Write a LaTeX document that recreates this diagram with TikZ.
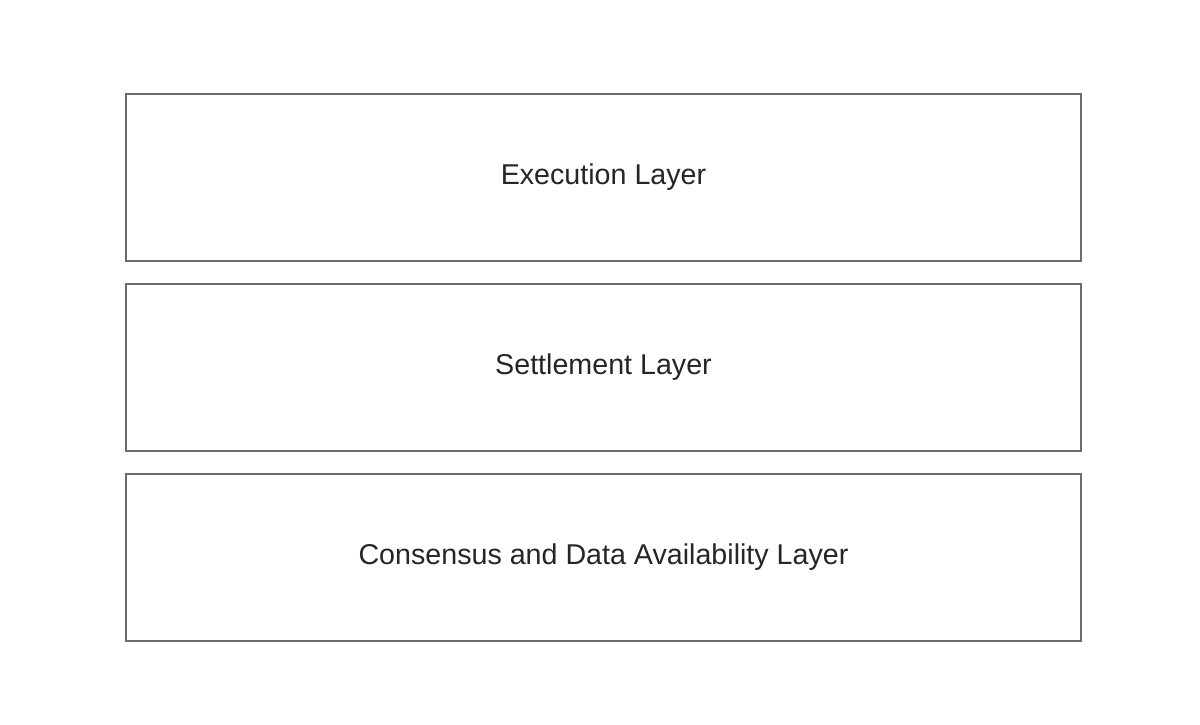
\documentclass[tikz,border=0pt]{standalone}
\usepackage{fontspec}
\setmainfont{Liberation Sans}
\usetikzlibrary{positioning}

\tikzset{
  layer/.style={draw=gray!85!black, line width=0.6pt, fill=white,
    minimum width=19.1cm, minimum height=3.34cm, outer sep=0pt,
    font=\fontsize{16.3}{19}\selectfont, text=black!85}
}

\begin{document}
\begin{tikzpicture}
  \useasboundingbox (0,0) rectangle (24,14.48);

  \node[layer] (exec) at (12.07,10.93) {Execution Layer};
  \node[layer, below=0.46cm of exec] (settle) {Settlement Layer};
  \node[layer, below=0.46cm of settle] (consensus) {Consensus and Data Availability Layer};
\end{tikzpicture}
\end{document}
